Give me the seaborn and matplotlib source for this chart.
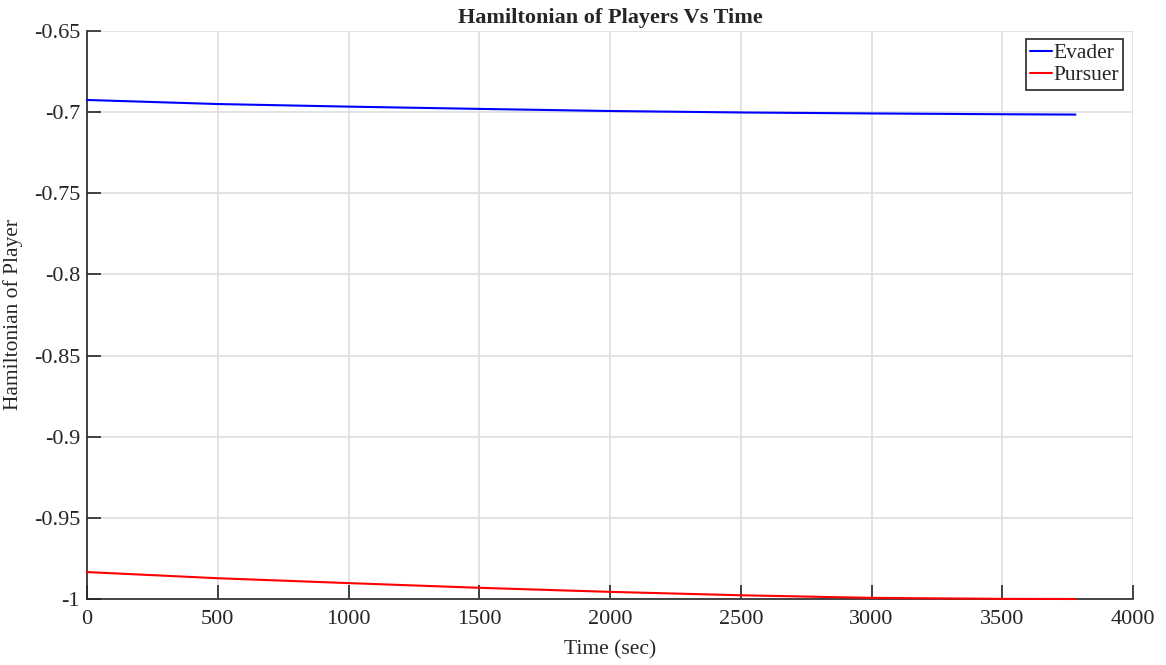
import matplotlib
matplotlib.use("Agg")
import matplotlib.pyplot as plt
import seaborn as sns
import pandas as pd

time_sec = [0, 500, 1000, 1500, 2000, 2500, 3000, 3500, 3780]
evader = [-0.6925, -0.6950, -0.6966, -0.6980, -0.6993, -0.7002, -0.7008, -0.7013, -0.7015]
pursuer = [-0.9834, -0.9872, -0.9902, -0.9931, -0.9956, -0.9977, -0.9993, -0.9999, -1.0000]
xticks = [0, 500, 1000, 1500, 2000, 2500, 3000, 3500, 4000]
yticks = [-0.65, -0.7, -0.75, -0.8, -0.85, -0.9, -0.95, -1.0]
ytick_labels = ["-0.65", "-0.7", "-0.75", "-0.8", "-0.85", "-0.9", "-0.95", "-1"]

df = pd.DataFrame({
    "Time": time_sec * 2,
    "H": evader + pursuer,
    "Player": ["Evader"] * len(time_sec) + ["Pursuer"] * len(time_sec),
})

sns.set_theme(style="white")
plt.rcParams["font.family"] = ["Liberation Serif", "DejaVu Serif"]

fig = plt.figure(figsize=(11.66, 6.65), dpi=100)
ax = fig.add_axes([87 / 1166, 1 - 599 / 665, (1133 - 87) / 1166, (599 - 31) / 665])
sns.lineplot(data=df, x="Time", y="H", hue="Player",
             palette={"Evader": "#0000ff", "Pursuer": "#ff0000"},
             linewidth=1.5, ax=ax)
for ln in ax.get_lines():
    ln.set_zorder(3)
    ln.set_clip_on(False)

ax.set_xlim(0, 4000)
ax.set_ylim(-1.0, -0.65)
ax.set_xticks(xticks)
ax.set_xticklabels([str(t) for t in xticks])
ax.set_yticks(yticks)
ax.set_yticklabels(ytick_labels)
ax.grid(True, color="#dedede", linewidth=1.2)
ax.set_axisbelow(True)
for s in ["top", "right"]:
    ax.spines[s].set_visible(False)
for s in ["left", "bottom"]:
    ax.spines[s].set_color("#262626")
    ax.spines[s].set_linewidth(1.2)
ax.tick_params(axis="both", direction="in", length=10, width=1.2, color="#262626",
               labelsize=16, labelcolor="#262626", left=True, bottom=True)
ax.tick_params(axis="x", pad=8)
ax.tick_params(axis="y", pad=5)
ax.set_xlabel("Time (sec)", fontsize=15.5, color="#262626", labelpad=8)
ax.set_ylabel("Hamiltonian of Player", fontsize=15.5, color="#262626", labelpad=8)
ax.set_title("Hamiltonian of Players Vs Time", fontsize=16, fontweight="bold", pad=6)

leg = ax.legend(loc="upper right", bbox_to_anchor=(0.9966, 0.9975), fontsize=15.5,
                frameon=True, fancybox=False, framealpha=1, edgecolor="#262626",
                handlelength=1.0, handletextpad=0.05, borderpad=0.2, labelspacing=0.1,
                borderaxespad=0.3)
leg.get_frame().set_linewidth(1.2)
leg.set_title(None)

fig.savefig("out.png", dpi=100)
